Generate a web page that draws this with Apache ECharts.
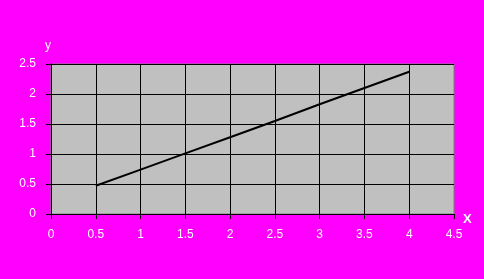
<!DOCTYPE html>
<html><head><meta charset="utf-8">
<script src="https://cdn.jsdelivr.net/npm/echarts@6/dist/echarts.min.js"></script>
<style>html,body{margin:0;padding:0;background:#FF00FF;}#c{width:484px;height:279px;}</style>
</head><body><div id="c"></div>
<script>
var xValues = [0.5, 1, 1.5, 2, 2.5, 3, 3.5, 4];
var yValues = [0.47, 0.74, 1.01, 1.28, 1.55, 1.83, 2.10, 2.37];
var xTicks = [0, 0.5, 1, 1.5, 2, 2.5, 3, 3.5, 4, 4.5];
var yTicks = [0, 0.5, 1, 1.5, 2, 2.5];

var labelStyle = {
  color: '#FFFFFF', fontSize: 12, fontFamily: 'Liberation Sans, Arial, sans-serif',
  textShadowColor: '#000000', textShadowOffsetX: 1, textShadowOffsetY: 1, textShadowBlur: 0
};
var chart = echarts.init(document.getElementById('c'));
chart.setOption({
  backgroundColor: '#FF00FF',
  animation: false,
  grid: { left: 51, right: 30, top: 64, bottom: 65, show: true, backgroundColor: '#C0C0C0', borderColor: '#808080', borderWidth: 1 },
  xAxis: {
    type: 'value', min: xTicks[0], max: xTicks[xTicks.length - 1], interval: 0.5,
    name: 'X', nameLocation: 'end', nameGap: 9,
    nameTextStyle: Object.assign({}, labelStyle, { fontWeight: 'bold', fontSize: 13, verticalAlign: 'top', lineHeight: 10 }),
    axisLine: { show: true, onZero: false, lineStyle: { color: '#000', width: 1 } },
    axisTick: { show: true, length: 5, lineStyle: { color: '#000' } },
    axisLabel: Object.assign({}, labelStyle, { margin: 15, showMinLabel: true, showMaxLabel: true }),
    splitLine: { show: true, showMinLine: false, showMaxLine: false, lineStyle: { color: '#000', width: 1 } }
  },
  yAxis: {
    type: 'value', min: yTicks[0], max: yTicks[yTicks.length - 1], interval: 0.5,
    name: 'y', nameLocation: 'end', nameGap: 12,
    nameTextStyle: Object.assign({}, labelStyle, { align: 'center', padding: [0, 0, 0, -6] }),
    axisLine: { show: true, onZero: false, lineStyle: { color: '#000', width: 1 } },
    axisTick: { show: true, length: 5, lineStyle: { color: '#000' } },
    axisLabel: Object.assign({}, labelStyle, { margin: 15, showMinLabel: true, showMaxLabel: true }),
    splitLine: { show: true, showMinLine: false, showMaxLine: true, lineStyle: { color: '#000', width: 1 } }
  },
  series: [{
    type: 'line',
    data: xValues.map(function (x, i) { return [x, yValues[i]]; }),
    showSymbol: false, symbol: 'none',
    lineStyle: { color: '#000', width: 2 },
    silent: true
  }]
});
</script></body></html>
